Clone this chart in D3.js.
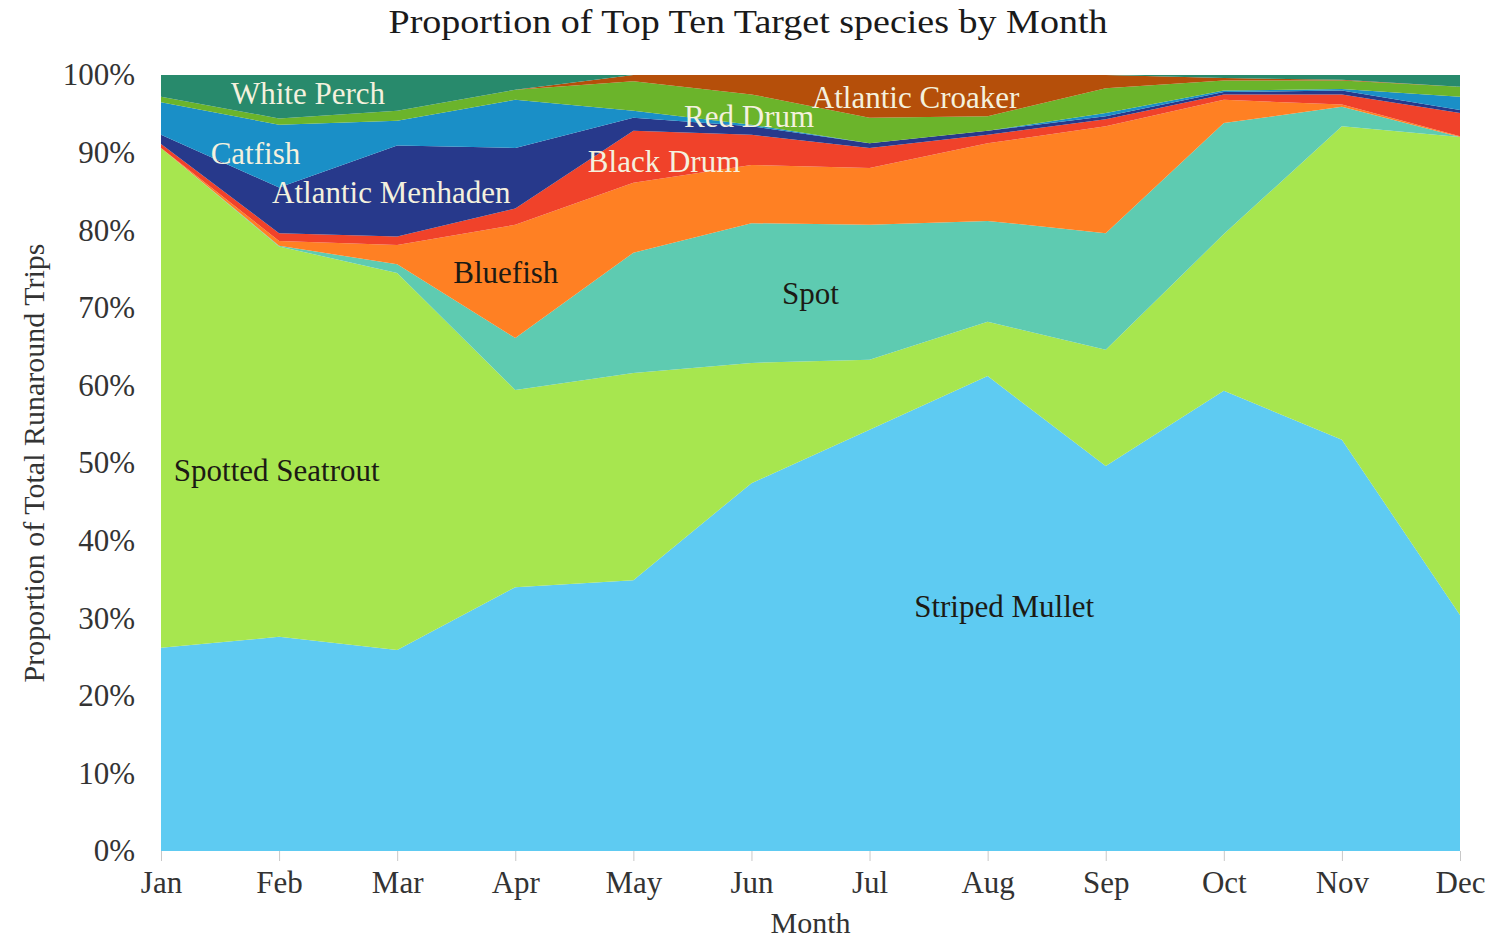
<!DOCTYPE html>
<html>
<head>
<meta charset="utf-8">
<script src="https://cdn.jsdelivr.net/npm/d3@7"></script>
<style>
  body { margin: 0; background: #fff; }
  svg text { font-family: "Liberation Serif", "Times New Roman", serif; }
</style>
</head>
<body>
<div id="chart"></div>
<script>
// months along the x axis
var months = ["Jan","Feb","Mar","Apr","May","Jun","Jul","Aug","Sep","Oct","Nov","Dec"];

// percent of runaround trips per species
var stripedMullet   = [26.2, 27.6, 25.9, 34.0, 34.9, 47.4, 54.3, 61.2, 49.6, 59.3, 53.0, 30.4];
var spottedSeatrout = [64.4, 50.3, 48.6, 25.4, 26.7, 15.5,  9.0,  7.0, 15.0, 20.2, 40.4, 61.6];
var spot            = [ 0.0,  0.1,  1.1,  6.7, 15.5, 18.0, 17.4, 13.0, 15.0, 14.3,  2.5,  0.0];
var bluefish        = [ 0.0,  0.6,  2.5, 14.6,  9.0,  7.5,  7.3, 10.0, 13.8,  3.0,  0.3,  0.1];
var blackDrum       = [ 0.5,  1.0,  1.1,  2.1,  6.7,  3.9,  2.6,  1.1,  0.9,  0.7,  1.3,  3.0];
var menhaden        = [ 1.2,  5.9, 11.7,  7.8,  1.7,  1.1,  0.6,  0.5,  0.4,  0.3,  0.5,  0.4];
var catfish         = [ 4.2,  8.1,  3.2,  6.2,  0.9,  0.2,  0.0,  0.0,  0.4,  0.2,  0.2,  1.7];
var redDrum         = [ 0.7,  0.8,  1.3,  1.3,  3.8,  3.9,  3.3,  1.9,  3.2,  1.3,  1.1,  1.3];
var croaker         = [ 0.0,  0.0,  0.0,  0.0,  0.8,  2.5,  5.5,  5.3,  1.7,  0.3,  0.1,  0.0];
var whitePerch      = [ 2.8,  5.6,  4.6,  1.9,  0.0,  0.0,  0.0,  0.0,  0.0,  0.4,  0.6,  1.5];

// stack order, bottom to top
var species = ["Striped Mullet","Spotted Seatrout","Spot","Bluefish","Black Drum",
               "Atlantic Menhaden","Catfish","Red Drum","Atlantic Croaker","White Perch"];
var seriesValues = [stripedMullet, spottedSeatrout, spot, bluefish, blackDrum,
                    menhaden, catfish, redDrum, croaker, whitePerch];
var colors = ["#5ecbf2","#a7e64f","#5ecbb1","#ff8023","#f0422a",
              "#27398b","#1a8fc7","#6bb42b","#b54f0a","#288a6c"];

// in-area labels: month position (fractional index) and percent height
var labelNames = ["White Perch","Catfish","Atlantic Menhaden","Black Drum","Red Drum",
                  "Atlantic Croaker","Bluefish","Spot","Spotted Seatrout","Striped Mullet"];
var labelMonth = [1.245, 0.80, 1.95, 4.26, 4.98, 6.39, 2.92, 5.50, 0.98, 7.14];
var labelPct   = [97.6, 89.9, 84.9, 88.9, 94.7, 97.2, 74.6, 71.9, 49.1, 31.6];
var labelLight = [true, true, true, true, true, true, false, false, false, false];

var margin = {top: 75, right: 36, bottom: 91, left: 161};
var width = 1496 - margin.left - margin.right,
    height = 942 - margin.top - margin.bottom;

var rows = months.map(function(m, i) {
  var r = {month: m, idx: i};
  species.forEach(function(s, k) { r[s] = seriesValues[k][i]; });
  return r;
});

var stack = d3.stack().keys(species).offset(d3.stackOffsetExpand);
var layers = stack(rows);

var x = d3.scaleLinear().domain([0, months.length - 1]).range([0, width]);
var y = d3.scaleLinear().domain([0, 1]).range([height, 0]);
var color = d3.scaleOrdinal().domain(species).range(colors);

var svg = d3.select("#chart").append("svg")
  .attr("width", 1496).attr("height", 942);

svg.append("text")
  .attr("x", 748).attr("y", 33)
  .attr("text-anchor", "middle")
  .attr("textLength", 719)
  .attr("lengthAdjust", "spacingAndGlyphs")
  .style("font-size", "33px")
  .style("fill", "#1a1a1a")
  .text("Proportion of Top Ten Target species by Month");

var g = svg.append("g")
  .attr("transform", "translate(" + margin.left + "," + margin.top + ")");

var area = d3.area()
  .x(function(d) { return x(d.data.idx); })
  .y0(function(d) { return y(d[0]); })
  .y1(function(d) { return y(d[1]); });

g.selectAll("path.layer")
  .data(layers)
  .enter().append("path")
    .attr("class", "layer")
    .attr("d", area)
    .style("fill", function(d) { return color(d.key); });

// x axis: light ticks, month names
var xAxis = d3.axisBottom(x)
  .tickValues(d3.range(months.length))
  .tickFormat(function(i) { return months[i]; })
  .tickSize(10)
  .tickPadding(10);

var xg = g.append("g")
  .attr("transform", "translate(0," + height + ")")
  .call(xAxis);
xg.select(".domain").remove();
xg.selectAll(".tick line").attr("stroke", "#c8c8c8");
xg.selectAll(".tick text")
  .style("font-size", "31px")
  .style("fill", "#333")
  .attr("font-family", null);

// y axis: labels only
var yAxis = d3.axisLeft(y)
  .tickValues(d3.range(0, 1.01, 0.1))
  .tickFormat(d3.format(".0%"))
  .tickSize(0)
  .tickPadding(26);

var yg = g.append("g").call(yAxis);
yg.select(".domain").remove();
yg.selectAll(".tick text")
  .style("font-size", "31px")
  .style("fill", "#333")
  .attr("font-family", null);

// axis titles
svg.append("text")
  .attr("x", margin.left + x(5.5)).attr("y", 933)
  .attr("text-anchor", "middle")
  .style("font-size", "30px")
  .style("fill", "#333")
  .text("Month");

svg.append("text")
  .attr("transform", "translate(44," + (margin.top + y(0.5)) + ") rotate(-90)")
  .attr("text-anchor", "middle")
  .style("font-size", "30px")
  .style("fill", "#333")
  .text("Proportion of Total Runaround Trips");

// species labels on the areas
g.selectAll("text.sp")
  .data(labelNames)
  .enter().append("text")
    .attr("class", "sp")
    .attr("x", function(d, i) { return x(labelMonth[i]); })
    .attr("y", function(d, i) { return y(labelPct[i] / 100); })
    .attr("dy", "0.35em")
    .attr("text-anchor", "middle")
    .style("font-size", "31px")
    .style("fill", function(d, i) { return labelLight[i] ? "#f4f1de" : "#1c1a14"; })
    .text(function(d) { return d; });
</script>
</body>
</html>
